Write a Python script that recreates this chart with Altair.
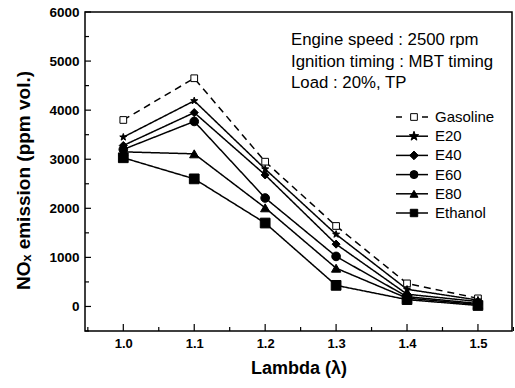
import altair as alt
import pandas as pd

lambdas = [1.0, 1.1, 1.2, 1.3, 1.4, 1.5]
series = ["Gasoline", "E20", "E40", "E60", "E80", "Ethanol"]
gasoline = [3800, 4650, 2950, 1640, 470, 165]
e20 = [3450, 4190, 2800, 1470, 350, 130]
e40 = [3280, 3950, 2680, 1270, 250, 100]
e60 = [3200, 3770, 2210, 1020, 200, 60]
e80 = [3150, 3110, 2010, 780, 170, 40]
ethanol = [3030, 2600, 1700, 430, 140, 20]
values = [gasoline, e20, e40, e60, e80, ethanol]

y_major = [0, 1000, 2000, 3000, 4000, 5000, 6000]
y_minor = [-500, 500, 1500, 2500, 3500, 4500, 5500]
x_major = [1.0, 1.1, 1.2, 1.3, 1.4, 1.5]
x_minor = [0.95, 1.05, 1.15, 1.25, 1.35, 1.45, 1.55]

notes = ["Engine speed : 2500 rpm", "Ignition timing : MBT timing", "Load : 20%, TP"]

STAR = ("M0,-1L0.235,-0.324L0.951,-0.309L0.380,0.124L0.588,0.809L0,0.4"
        "L-0.588,0.809L-0.380,0.124L-0.951,-0.309L-0.235,-0.324Z")
shapes = ["square", STAR, "diamond", "circle", "triangle-up", "square"]
fills = ["white", "black", "black", "black", "black", "black"]
sizes = [45, 95, 75, 64, 64, 55]
dashes = [[7, 5], [1, 0], [1, 0], [1, 0], [1, 0], [1, 0]]

rows = []
for s, vals in zip(series, values):
    for l, v in zip(lambdas, vals):
        rows.append({"series": s, "lambda": l, "nox": v})
df = pd.DataFrame(rows)

W, H = 427, 319
xs = alt.Scale(domain=[0.946, 1.548], nice=False, zero=False)
ys = alt.Scale(domain=[-500, 6000], nice=False, zero=False)

x_enc = alt.X("lambda:Q", scale=xs,
              axis=alt.Axis(values=x_major, format=".1f", ticks=False, domain=False, grid=False,
                            labelFont="Liberation Sans", labelFontWeight="bold", labelFontSize=13,
                            labelPadding=6, labelColor="black",
                            title="Lambda (λ)", titleFont="Liberation Sans", titleFontWeight="bold",
                            titleFontSize=18, titlePadding=9, titleColor="black"))
y_enc = alt.Y("nox:Q", scale=ys,
              axis=alt.Axis(values=y_major, format="d", ticks=False, domain=False, grid=False,
                            labelFont="Liberation Sans", labelFontWeight="bold", labelFontSize=13.5,
                            labelPadding=6, labelColor="black",
                            title="NOₓ emission (ppm vol.)", titleFont="Liberation Sans",
                            titleFontWeight="bold", titleFontSize=19, titleColor="black",
                            titleX=-62, titleY=168, titleAngle=270, titleAlign="center",
                            titleBaseline="middle"))

base = alt.Chart(df)
lines = base.mark_line(color="black", strokeWidth=1.5).encode(
    x=x_enc, y=y_enc, detail="series:N",
    strokeDash=alt.StrokeDash("series:N", scale=alt.Scale(domain=series, range=dashes), legend=None),
)
points = base.mark_point(stroke="black", strokeWidth=1, opacity=1, filled=False).encode(
    x="lambda:Q", y="nox:Q",
    shape=alt.Shape("series:N", scale=alt.Scale(domain=series, range=shapes), legend=None),
    fill=alt.Fill("series:N", scale=alt.Scale(domain=series, range=fills), legend=None),
    size=alt.Size("series:N", scale=alt.Scale(domain=series, range=sizes), legend=None),
)

ymaj = alt.Chart(pd.DataFrame({"v": y_major})).mark_rule(color="black", strokeWidth=1.2).encode(
    y=alt.Y("v:Q", scale=ys), x=alt.value(0), x2=alt.value(6))
ymin = alt.Chart(pd.DataFrame({"v": y_minor})).mark_rule(color="black", strokeWidth=1.2).encode(
    y=alt.Y("v:Q", scale=ys), x=alt.value(0), x2=alt.value(4))
xmaj = alt.Chart(pd.DataFrame({"v": x_major})).mark_rule(color="black", strokeWidth=1.2).encode(
    x=alt.X("v:Q", scale=xs), y=alt.value(H), y2=alt.value(H - 7))
xmin = alt.Chart(pd.DataFrame({"v": x_minor})).mark_rule(color="black", strokeWidth=1.2).encode(
    x=alt.X("v:Q", scale=xs), y=alt.value(H), y2=alt.value(H - 4))

layers = [ymaj, ymin, xmaj, xmin, lines, points]

for i, t in enumerate(notes):
    layers.append(alt.Chart(pd.DataFrame({"t": [t]})).mark_text(
        align="left", baseline="middle", font="Liberation Sans", fontSize=16.8, color="black"
    ).encode(text="t:N", x=alt.value(206), y=alt.value(28 + i * 21.5)))

for i, s in enumerate(series):
    yy = 105 + i * 19.2
    if i == 0:
        layers.append(alt.Chart(pd.DataFrame({"a": [0]})).mark_rule(color="black", strokeWidth=1.5).encode(
            x=alt.value(311), x2=alt.value(317), y=alt.value(yy)))
        layers.append(alt.Chart(pd.DataFrame({"a": [0]})).mark_rule(color="black", strokeWidth=1.5).encode(
            x=alt.value(337), x2=alt.value(343), y=alt.value(yy)))
    else:
        layers.append(alt.Chart(pd.DataFrame({"a": [0]})).mark_rule(color="black", strokeWidth=1.5).encode(
            x=alt.value(311), x2=alt.value(343), y=alt.value(yy)))
    layers.append(alt.Chart(pd.DataFrame({"a": [0]})).mark_point(
        shape=shapes[i], fill=fills[i], stroke="black", strokeWidth=1, opacity=1, size=sizes[i]
    ).encode(x=alt.value(329), y=alt.value(yy)))
    layers.append(alt.Chart(pd.DataFrame({"t": [s]})).mark_text(
        align="left", baseline="middle", font="Liberation Sans", fontSize=15, color="black"
    ).encode(text="t:N", x=alt.value(350), y=alt.value(yy)))

chart = alt.layer(*layers).properties(
    width=W, height=H,
    autosize=alt.AutoSizeParams(type="none"),
    padding={"left": 85, "top": 12, "right": 3, "bottom": 57},
    background="white",
).configure_view(stroke="black", strokeWidth=1.5)

chart.save("out.html", embed_options={"renderer": "svg", "actions": False})
